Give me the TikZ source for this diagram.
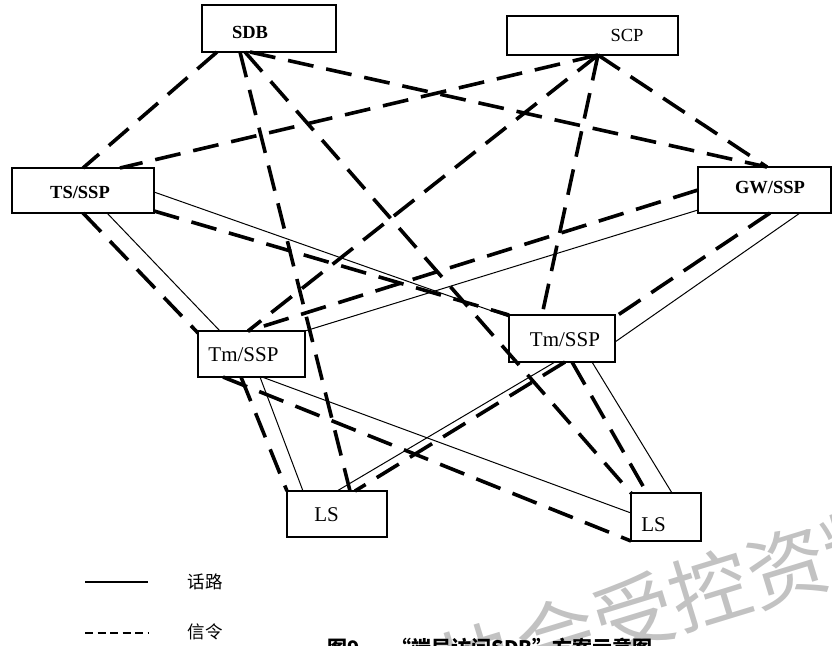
\documentclass[tikz,border=0pt]{standalone}
\usepackage{fontspec}
\setmainfont{Liberation Serif}
\newfontfamily\cjk{Noto Sans CJK SC}
\begin{document}
\begin{tikzpicture}[x=1pt,y=-1pt,
  box/.style={draw, line width=1.6pt, fill=white, inner sep=0pt, outer sep=0pt},
  lblA/.style={font=\fontsize{18.5}{20}\selectfont\bfseries, inner sep=0pt},
  lblB/.style={font=\fontsize{18.5}{20}\selectfont, inner sep=0pt},
  lblC/.style={font=\fontsize{21}{23}\selectfont, inner sep=0pt},
  sig/.style={line width=3.6pt, dash pattern=on 26pt off 13pt},
  voice/.style={line width=1pt},
  legtext/.style={font=\cjk\fontsize{17.5}{19}\selectfont, inner sep=0pt}]
\useasboundingbox (0,0) rectangle (832,645);
\clip (0,0) rectangle (832,645);

% network elements
\node[box, minimum width=134pt, minimum height=47pt,
  label={[lblA, xshift=-19pt, yshift=-3.5pt]center:SDB}] (sdb) at (269,28.5) {};
\node[box, minimum width=171pt, minimum height=39pt,
  label={[lblB, xshift=34.5pt]center:SCP}] (scp) at (592.5,35.5) {};
\node[box, minimum width=142pt, minimum height=45pt,
  label={[lblA, xshift=-3pt, yshift=-1.5pt]center:TS/SSP}] (ts) at (83,190.5) {};
\node[box, minimum width=133pt, minimum height=46pt,
  label={[lblA, xshift=5.5pt, yshift=2pt]center:GW/SSP}] (gw) at (764.5,190) {};
\node[box, minimum width=107pt, minimum height=46pt,
  label={[lblC, xshift=-8pt, yshift=-1pt]center:Tm/SSP}] (tml) at (251.5,354) {};
\node[box, minimum width=106pt, minimum height=47pt,
  label={[lblC, xshift=3pt, yshift=-1.5pt]center:Tm/SSP}] (tmr) at (562,338.5) {};
\node[box, minimum width=100pt, minimum height=46pt,
  label={[lblC, xshift=-10.5pt, yshift=-1pt]center:LS}] (lsl) at (337,514) {};
\node[box, minimum width=70pt, minimum height=48pt,
  label={[lblC, xshift=-12.5pt, yshift=-8pt]center:LS}] (lsr) at (666,517) {};

% signalling links (dashed)
\draw[sig] ([xshift=15pt]sdb.south west) -- ([xshift=71pt]ts.north west);
\draw[sig] ([xshift=38pt]sdb.south west) -- ([xshift=63pt]lsl.north west);
\draw[sig] ([xshift=43pt]sdb.south west) -- (lsr.north west);
\draw[sig] ([xshift=48pt]sdb.south west) -- ([xshift=69pt]gw.north west);
\draw[sig] ([xshift=91pt]scp.south west) -- ([xshift=108pt]ts.north west);
\draw[sig] ([xshift=91pt]scp.south west) -- ([xshift=50pt]tml.north west);
\draw[sig] ([xshift=91pt]scp.south west) -- ([xshift=33pt]tmr.north west);
\draw[sig] ([xshift=91pt]scp.south west) -- ([xshift=69pt]gw.north west);
\draw[sig] ([yshift=-43pt]ts.north east) -- (tmr.north west);
\draw[sig] ([xshift=71pt]ts.south west) -- ([yshift=-2pt]tml.north west);
\draw[sig] ([yshift=-23pt]gw.north west) -- ([xshift=50pt]tml.north west);
\draw[sig] ([xshift=72pt]gw.south west) -- ([yshift=-2pt]tmr.north east);
\draw[sig] ([xshift=25pt]tml.south west) -- (lsr.south west);
\draw[sig] ([xshift=43pt]tml.south west) -- (lsl.north west);
\draw[sig] ([xshift=56pt]tmr.south west) -- ([xshift=68pt]lsl.north west);
\draw[sig] ([xshift=63pt]tmr.south west) -- ([xshift=16pt]lsr.north west);

% voice trunks (solid)
\draw[voice] ([yshift=-24pt]ts.north east) -- ([yshift=-2pt]tmr.north west);
\draw[voice] ([xshift=95pt]ts.south west) -- ([xshift=22pt]tml.north west);
\draw[voice] ([yshift=-43pt]gw.north west) -- (tml.north east);
\draw[voice] ([xshift=102pt]gw.south west) -- ([yshift=-27pt]tmr.north east);
\draw[voice] ([xshift=62pt]tml.south west) -- ([xshift=16pt]lsl.north west);
\draw[voice] ([xshift=64pt]tml.south west) -- ([yshift=-20pt]lsr.north west);
\draw[voice] ([xshift=46pt]tmr.south west) -- ([xshift=50pt]lsl.north west);
\draw[voice] ([xshift=83pt]tmr.south west) -- ([xshift=41pt]lsr.north west);

% legend
\coordinate (vA) at (85,582);
\coordinate (vB) at (148,582);
\draw[line width=1.8pt] (vA) -- (vB);
\node[legtext] (vT) at (205,582) {话路};
\coordinate (sA) at (85,633);
\coordinate (sB) at (148,633);
\draw[line width=1.8pt, dash pattern=on 8pt off 4.5pt] (sA) -- (sB);
\node[legtext] (sT) at (205,632) {信令};

% watermark and caption
\node[anchor=west, rotate=17, text=black!24, inner sep=0pt,
  font=\cjk\fontsize{80}{80}\selectfont] (wm) at (442,672) {协会受控资料};
\node[anchor=base west, inner sep=0pt, font=\cjk\fontsize{20}{22}\selectfont\bfseries]
  (cap) at (327,655) {图9\hspace{1.6em}“端局访问SDB”方案示意图};
\end{tikzpicture}
\end{document}
